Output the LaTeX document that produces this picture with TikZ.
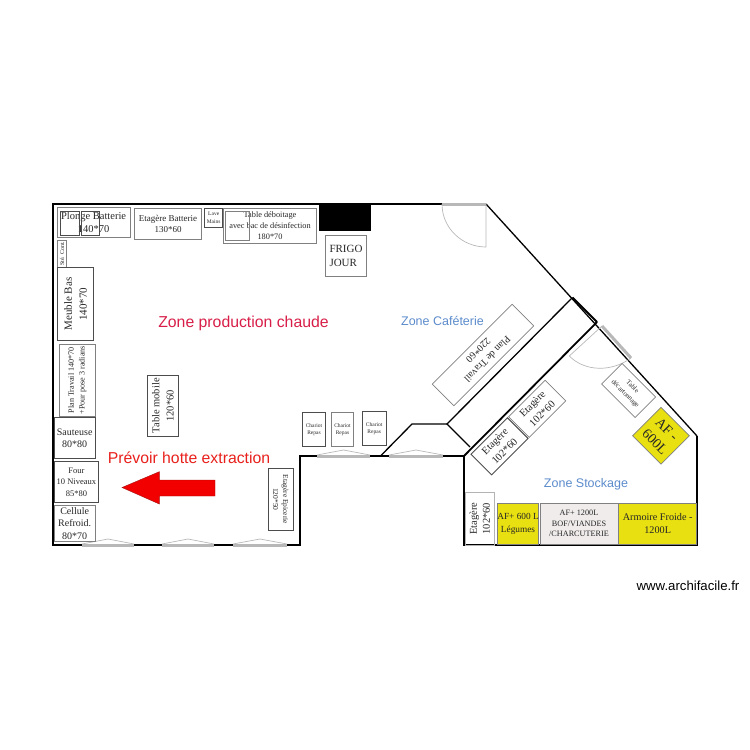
\documentclass[tikz,border=0pt]{standalone}
\usepackage{fontspec}
\setmainfont{Liberation Serif}
\newfontfamily\zonefont{Liberation Sans}
\definecolor{afyellow}{HTML}{E8E010}
\definecolor{zoneblue}{HTML}{5B8BCB}
\definecolor{zonered}{HTML}{D81E48}
\definecolor{hotred}{HTML}{E8201C}
\definecolor{boxgray}{HTML}{808080}
\definecolor{doorgray}{HTML}{B8B8B8}
\definecolor{paleroom}{HTML}{F0ECEC}
\newcommand{\tfl}[2]{\fontsize{#1}{#2}\selectfont}
\tikzset{
  wall/.style={draw=black,line width=1.8pt,line join=miter},
  thinwall/.style={draw=black,line width=1.3pt},
  furn/.style={draw=boxgray,line width=0.7pt},
  furnd/.style={draw=black!70,line width=0.9pt},
  txt/.style={align=center,inner sep=0pt,text=black!85},
  zone/.style={inner sep=0pt},
  doorbar/.style={draw=doorgray,line width=3pt},
  doorleaf/.style={draw=doorgray,line width=0.7pt}
}
\begin{document}
\begin{tikzpicture}[x=1pt,y=-1pt]
\useasboundingbox (0,0) rectangle (750,750);
% walls
\coordinate (a) at (53,204);
\coordinate (b) at (486,204);
\coordinate (c) at (697,436);
\coordinate (d) at (697,545);
\coordinate (e) at (464,545);
\coordinate (f) at (464,456);
\coordinate (g) at (300,456);
\coordinate (h) at (300,545);
\coordinate (i) at (53,545);
\coordinate (j) at (572.5,297.5);
\coordinate (k) at (597,322);
\coordinate (l) at (447,424);
\coordinate (m) at (470,447);
\coordinate (n) at (412,424);
\coordinate (o) at (380.5,456);
\draw[wall] (b) -- (a) -- (i) -- (h) -- (g) -- (f) -- (e) -- (d) -- (c);
\draw[thinwall] (b) -- (c);
\draw[wall] (j) -- (k);
\draw[wall] (f) -- (k);
\draw[thinwall] (j) -- (l) -- (m);
\draw[thinwall] (l) -- (n) -- (o);
% doors
\draw[doorbar] (442,204) -- (b);
\draw[doorleaf] (486,204) -- (486,247) .. controls (462,247) and (442,228) .. (442,204);
\draw[doorbar] (602,326) -- (631,358);
\draw[doorleaf] (602,326) -- (569.3,356) .. controls (585,372) and (612,372) .. (631,358);
\foreach \xa/\xb/\ya in {82/134/545,162/214/545,233/287/545,317/370/456,389/443/456}{
  \draw[doorbar] (\xa,\ya) -- (\xb,\ya);
  \draw[doorleaf] (\xa,\ya-1) -- ({(\xa+\xb)/2},\ya-6) -- (\xb,\ya-1);
}
% furniture
\node[furn,minimum width=72.7pt,minimum height=30pt,txt,font=\tfl{10.5}{12.7}] (plonge) at (93.6,222.3) {Plonge Batterie\\140*70};
\draw[furnd] (60.3,211.7) rectangle (79,235.3);
\draw[furnd] (81.3,211) rectangle (99.7,235);
\node[furn,minimum width=67.4pt,minimum height=31pt,txt,font=\tfl{9}{11}] (etbat) at (168,223.8) {Etagère Batterie\\130*60};
\node[furnd,minimum width=18pt,minimum height=19.3pt,txt,font=\tfl{5.5}{7.7}] (lave) at (213.7,217.7) {Lave\\Mains};
\node[furn,minimum width=93.4pt,minimum height=35.3pt,txt,font=\tfl{8.3}{10.7}] (tabdeb) at (270,225.7) {Table déboitage\\avec bac de désinfection\\180*70};
\draw[furn] (225.3,211.7) rectangle (249.7,240);
\fill[black] (319.3,205) rectangle (370.7,230.7);
\node[furn,minimum width=41.4pt,minimum height=41.4pt,txt,align=left,font=\tfl{11}{14}] (frigo) at (346,256) {FRIGO\\JOUR};
\node[furn,minimum width=27.3pt,minimum height=9.4pt,txt,rotate=90,font=\tfl{6}{7}] (ste) at (62,253.7) {Sté. Cont.};
\node[furnd,fill=white,minimum width=73.4pt,minimum height=36.4pt,txt,rotate=90,font=\tfl{11}{15}] (meuble) at (75.5,304) {Meuble Bas\\140*70};
\node[furn,minimum width=72.7pt,minimum height=35.7pt,txt,rotate=90,font=\tfl{8.1}{10.7}] (plan) at (77.3,380.3) {Plan Travail 140*70\\+Pour pose 3 radians};
\node[furnd,minimum width=41.3pt,minimum height=41pt,txt,font=\tfl{10}{12.7}] (saut) at (74.7,438.2) {Sauteuse\\80*80};
\node[furnd,minimum width=44.7pt,minimum height=41.4pt,txt,font=\tfl{8.5}{11.3}] (four) at (76.4,482) {Four\\10 Niveaux\\85*80};
\node[furn,minimum width=41.3pt,minimum height=36.7pt,txt,font=\tfl{10}{12.7}] (cell) at (74.7,523.3) {Cellule\\Refroid.\\80*70};
\node[furnd,minimum width=61pt,minimum height=30.6pt,txt,rotate=90,font=\tfl{10.5}{14.3}] (tabmob) at (163,405.8) {Table mobile\\120*60};
\node[furnd,minimum width=23.4pt,minimum height=34pt,txt,font=\tfl{5.5}{7}] (ch1) at (314,429.3) {Chariot\\Repas};
\node[furn,minimum width=22.4pt,minimum height=34pt,txt,font=\tfl{5.5}{7}] (ch2) at (342.5,429.3) {Chariot\\Repas};
\node[furnd,minimum width=23.7pt,minimum height=34pt,txt,font=\tfl{5.5}{7}] (ch3) at (374.2,428.3) {Chariot\\Repas};
\node[furnd,minimum width=62pt,minimum height=25pt,txt,rotate=-90,font=\tfl{7.5}{10}] (epic) at (280.8,499.3) {Etagère Epicerie\\120*50};
% rotated items
\node[furn,minimum width=113pt,minimum height=30.5pt,txt,rotate=225,font=\tfl{10}{13}] (plantrav) at (483,355) {Plan de Travail\\220*60};
\node[furn,minimum width=47.4pt,minimum height=29pt,txt,rotate=-45,font=\tfl{6.8}{10}] (deco) at (628.7,390.5) {Table\\décartonnage};
\node[draw=boxgray,line width=0.7pt,fill=afyellow,minimum width=40.2pt,minimum height=40.2pt,txt,rotate=-45,font=\tfl{14}{17}] (af600) at (661,435.8) {AF -\\600L};
\node[furnd,minimum width=51.5pt,minimum height=29.2pt,txt,rotate=45,font=\tfl{10.5}{13.7}] (et1) at (499.5,446.3) {Etagère\\102*60};
\node[furn,minimum width=51.5pt,minimum height=29.2pt,txt,rotate=45,font=\tfl{10.5}{13.7}] (et2) at (537.2,408.8) {Etagère\\102*60};
% storage
\node[draw=boxgray!60,line width=0.7pt,minimum width=52.7pt,minimum height=29.7pt,txt,rotate=90,font=\tfl{10.5}{13}] (et3) at (479.8,518.6) {Etagère\\102*60};
\node[draw=boxgray,line width=0.7pt,fill=afyellow,minimum width=41.4pt,minimum height=41pt,txt,font=\tfl{9.3}{12.3}] (af1) at (518,523.8) {AF+ 600 L\\Légumes};
\node[draw=boxgray,line width=0.7pt,fill=paleroom,minimum width=78pt,minimum height=41pt,txt,font=\tfl{8.2}{10.5}] (af2) at (579,523.8) {AF+ 1200L\\BOF/VIANDES\\/CHARCUTERIE};
\node[draw=boxgray,line width=0.7pt,fill=afyellow,minimum width=78pt,minimum height=41pt,txt,font=\tfl{10.2}{12.7}] (af3) at (657.7,523.8) {Armoire Froide -\\1200L};
% arrow
\fill[draw=hotred!70!black,line width=0.4pt,fill=red!95!black] (122,487.5) -- (159.3,471.7) -- (159.3,480) -- (215,480) -- (215,496) -- (159.3,496) -- (159.3,504) -- cycle;
% zones
\node[zone,text=zonered,font=\zonefont\tfl{15.8}{18}] (z1) at (243.5,323.5) {Zone production chaude};
\node[zone,text=hotred,font=\zonefont\tfl{15.8}{18}] (z2) at (189,457.5) {Prévoir hotte extraction};
\node[zone,text=zoneblue,font=\zonefont\tfl{12.5}{15}] (z3) at (442.5,320.5) {Zone Caféterie};
\node[zone,text=zoneblue,font=\zonefont\tfl{12.5}{15}] (z4) at (586,484.5) {Zone Stockage};
\node[inner sep=0pt,font=\zonefont\tfl{13.2}{15}] (wm) at (688,585.5) {www.archifacile.fr};
\end{tikzpicture}
\end{document}
